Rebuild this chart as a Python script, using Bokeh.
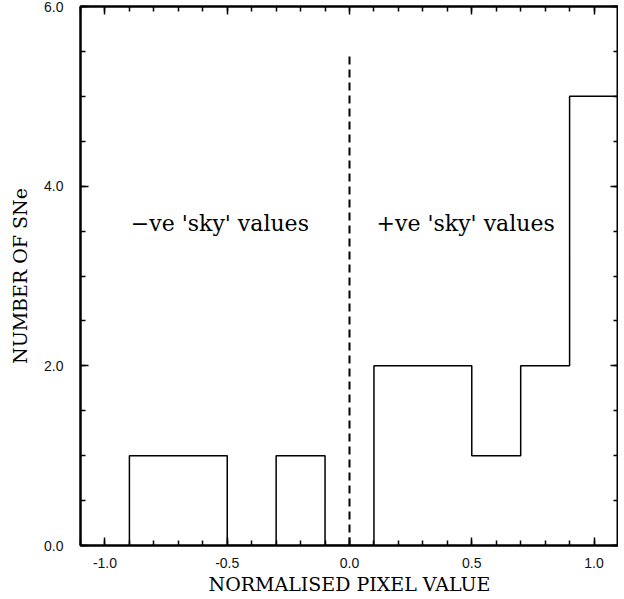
from bokeh.plotting import figure
from bokeh.models import (LinearAxis, SingleIntervalTicker, Range1d, CustomJSTickFormatter,
                          PrintfTickFormatter, Label)
from bokeh.embed import file_html
from bokeh.resources import INLINE

# Data
bin_edges = [-0.9, -0.7, -0.5, -0.3, -0.1, 0.1, 0.3, 0.5, 0.7, 0.9, 1.1]
counts = [1, 1, 0, 1, 0, 2, 2, 1, 2, 5]
divider_x = [0.0, 0.0]
divider_y = [0.0, 5.5]
annot_text = ["\u2212ve 'sky' values", "+ve 'sky' values"]
annot_x = [-0.53, 0.475]
annot_y = [3.58, 3.58]

# step outline
xs = [bin_edges[0]]
ys = [0]
for i, c in enumerate(counts):
    xs += [bin_edges[i], bin_edges[i + 1]]
    ys += [c, c]
xs.append(bin_edges[-1])
ys.append(0)

SERIF = "DejaVu Serif"
SANS = "Liberation Sans"

p = figure(width=618, height=597, output_backend="svg", toolbar_location=None,
           x_range=Range1d(-1.1, 1.1), y_range=Range1d(0, 6.0),
           x_axis_label="NORMALISED PIXEL VALUE", y_axis_label="NUMBER OF SNe",
           min_border_left=80, min_border_right=0, min_border_top=6, min_border_bottom=10)
p.xgrid.visible = False
p.ygrid.visible = False
p.outline_line_color = "black"
p.outline_line_width = 2
p.background_fill_color = "white"
p.border_fill_color = "white"

xt = SingleIntervalTicker(interval=0.5, num_minor_ticks=5)
yt = SingleIntervalTicker(interval=2.0, num_minor_ticks=4)

def style(ax, ticker, labels=True):
    ax.ticker = ticker
    ax.axis_line_width = 2
    ax.axis_line_color = "black"
    ax.major_tick_in = 8
    ax.major_tick_out = 0
    ax.minor_tick_in = 5
    ax.minor_tick_out = 0
    ax.major_tick_line_width = 1.5
    ax.minor_tick_line_width = 1.5
    ax.major_tick_line_color = "black"
    ax.minor_tick_line_color = "black"
    if labels:
        ax.formatter = PrintfTickFormatter(format="%.1f")
    else:
        ax.formatter = CustomJSTickFormatter(code="return '';")
        ax.major_label_standoff = 0
        ax.major_label_text_font_size = "1px"

style(p.xaxis[0], xt)
style(p.yaxis[0], yt)
for ax in (p.xaxis[0], p.yaxis[0]):
    ax.major_label_text_font = SANS
    ax.major_label_text_font_size = "14px"
    ax.major_label_text_color = "#111111"
    ax.axis_label_text_font = SERIF
    ax.axis_label_text_font_style = "normal"
    ax.axis_label_text_font_size = "19px"
    ax.axis_label_text_color = "black"
p.xaxis[0].major_label_standoff = 12
p.xaxis[0].axis_label_standoff = 2
p.yaxis[0].major_label_standoff = 17
p.yaxis[0].axis_label_standoff = 10
p.yaxis[0].major_label_orientation = "horizontal"

top = LinearAxis()
style(top, SingleIntervalTicker(interval=0.5, num_minor_ticks=5), labels=False)
right = LinearAxis()
style(right, SingleIntervalTicker(interval=2.0, num_minor_ticks=4), labels=False)
p.add_layout(top, "above")
p.add_layout(right, "right")

p.line(xs, ys, line_color="black", line_width=1.5)
p.line(divider_x, divider_y, line_color="black", line_width=2, line_dash="8 5")

for t, x, y in zip(annot_text, annot_x, annot_y):
    p.add_layout(Label(x=x, y=y, text=t, text_font=SERIF, text_font_size="22px",
                       text_align="center", text_baseline="middle", text_color="black"))

open("out.html", "w").write(file_html(p, INLINE))
